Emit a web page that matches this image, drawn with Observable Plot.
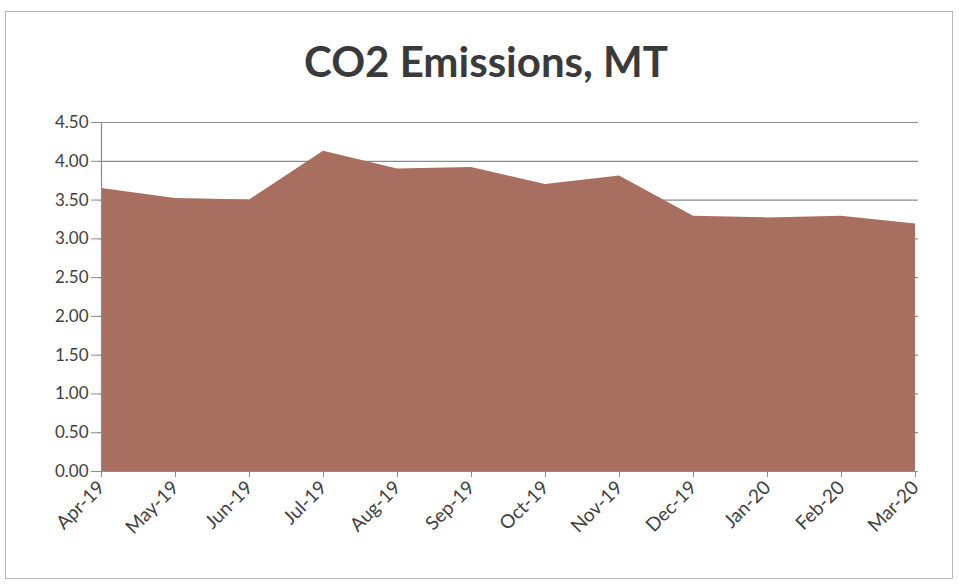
<!DOCTYPE html>
<html>
<head>
<meta charset="utf-8">
<script src="https://cdn.jsdelivr.net/npm/d3@7"></script>
<script src="https://cdn.jsdelivr.net/npm/@observablehq/plot@0.6"></script>
<style>
  html, body { margin: 0; padding: 0; background: #fff; }
  #wrap { position: relative; width: 959px; height: 584px; overflow: hidden; }
  #frame { position: absolute; left: 5px; top: 11px; width: 948px; height: 568px; border: 1px solid #b8b8b8; box-sizing: border-box; }
  #title { position: absolute; left: 0; width: 972px; top: 40px; text-align: center; line-height: 1;
           font-family: Lato, "Open Sans", sans-serif; font-weight: bold; font-size: 42px; color: #3a3a3a; }
  #chart { position: absolute; left: 0; top: 0; }
</style>
</head>
<body>
<div id="wrap">
  <div id="frame"></div>
  <div id="title">CO2 Emissions, MT</div>
  <div id="chart"></div>
</div>
<script>
const months = ["Apr-19","May-19","Jun-19","Jul-19","Aug-19","Sep-19","Oct-19","Nov-19","Dec-19","Jan-20","Feb-20","Mar-20"];
const emissions = [3.65, 3.52, 3.50, 4.13, 3.90, 3.92, 3.70, 3.81, 3.29, 3.27, 3.29, 3.19];
const yTicks = [0, 0.5, 1, 1.5, 2, 2.5, 3, 3.5, 4, 4.5];

const data = months.map((m, i) => ({month: m, value: emissions[i]}));

const chart = Plot.plot({
  width: 959,
  height: 584,
  marginTop: 122,
  marginBottom: 113,
  marginLeft: 98,
  marginRight: 41,
  style: {fontFamily: "Lato, 'Open Sans', sans-serif", fontSize: "17px", color: "#404040", background: "transparent"},
  x: {type: "point", domain: months, padding: 0, label: null},
  y: {domain: [0, 4.5], label: null},
  marks: [
    Plot.ruleY(yTicks.filter(d => d > 0), {stroke: "#8c8c8c", strokeWidth: 1.2}),
    Plot.areaY(data, {x: "month", y: "value", fill: "#a86e60", fillOpacity: 1}),
    Plot.ruleY([0], {stroke: "#8c8c8c", strokeWidth: 1.2}),
    Plot.ruleX([months[0]], {stroke: "#8c8c8c", strokeWidth: 1.2}),
    Plot.axisY({ticks: yTicks, tickFormat: d3.format(".2f"), tickSize: 7, tickPadding: 3, stroke: "#8c8c8c", fill: "#404040", fontSize: 17}),
    Plot.axisX({tickSize: 6, tickPadding: 7, tickRotate: -45, stroke: "#8c8c8c", fill: "#404040", fontSize: 19})
  ]
});
document.getElementById("chart").appendChild(chart);
</script>
</body>
</html>
